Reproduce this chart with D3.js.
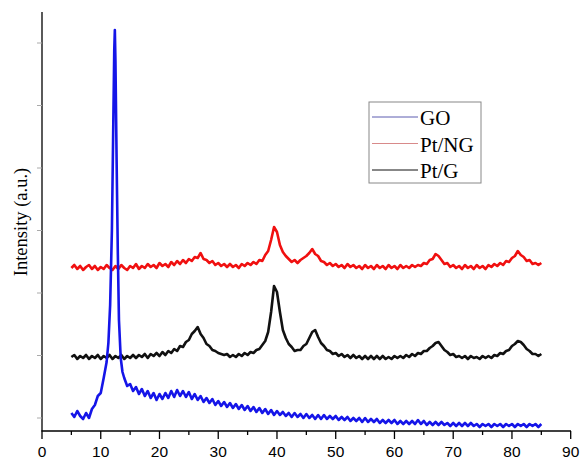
<!DOCTYPE html>
<html><head><meta charset="utf-8">
<script src="https://cdn.jsdelivr.net/npm/d3@7"></script>
<style>body{margin:0;background:#fff}</style>
</head><body>
<svg id="c" width="581" height="459"></svg>
<script>
const xTicks = [0,10,20,30,40,50,60,70,80,90];
const seriesNames = ["GO","Pt/NG","Pt/G"];
const yTicks = [120,745,1370,1995,2620,3245,3870];

// GO: fine points around the sharp peak, then a 0.5° grid from 14° to 85°
const goHeadX = [5,5.5,6,6.5,7,7.5,8,8.5,9,9.5,10,10.5,11,11.3,11.6,11.9,12.1,12.3,12.4,12.5,12.7,12.9,13.1,13.4,13.7];
const goHeadY = [170,130,190,140,110,170,120,210,250,340,370,520,680,870,1250,2000,2900,3800,4000,3700,2700,1800,1100,720,580];
const goTailY = [520,440,460,390,430,360,410,340,390,320,370,300,360,310,370,320,390,330,400,340,390,330,380,310,360,300,340,280,320,270,310,250,290,240,280,230,270,220,260,210,250,200,240,190,230,180,220,170,210,160,200,150,190,150,180,140,170,130,170,130,160,120,160,120,150,110,150,110,150,110,140,110,140,100,130,100,130,90,120,90,120,80,120,80,110,80,110,70,100,70,100,70,100,60,90,60,90,60,90,60,100,60,90,50,80,50,80,50,80,50,70,40,70,40,70,40,70,40,70,40,60,30,60,40,60,30,60,40,60,30,60,40,60,30,60,40,60,30,60,40,60,30,60];

// Pt/NG and Pt/G on a 0.5° grid from 5° to 85°
const ngY = [1620,1650,1610,1640,1600,1630,1650,1610,1640,1600,1630,1610,1650,1620,1600,1640,1610,1650,1620,1600,1640,1620,1660,1610,1640,1620,1660,1630,1650,1620,1670,1640,1660,1630,1680,1650,1690,1660,1700,1670,1710,1690,1730,1720,1770,1710,1700,1670,1690,1650,1670,1640,1660,1630,1660,1630,1650,1620,1660,1640,1670,1650,1680,1660,1700,1690,1750,1790,1900,2030,1980,1850,1780,1740,1710,1680,1700,1670,1700,1720,1740,1770,1810,1760,1740,1690,1680,1650,1670,1640,1660,1630,1650,1620,1660,1630,1650,1620,1640,1610,1650,1620,1640,1610,1650,1620,1640,1610,1650,1620,1640,1610,1650,1620,1640,1620,1650,1630,1650,1640,1670,1660,1700,1710,1760,1740,1700,1660,1670,1630,1650,1620,1640,1610,1650,1620,1640,1610,1650,1620,1640,1610,1650,1630,1660,1640,1670,1650,1690,1680,1720,1740,1790,1750,1730,1690,1700,1660,1670,1650,1670];
const gY = [730,750,710,740,720,750,710,740,720,750,710,740,720,750,710,740,720,750,710,740,720,750,720,750,730,760,720,760,740,770,740,780,750,790,770,810,790,840,830,880,900,960,990,1030,960,920,860,840,800,790,770,760,750,760,730,750,730,760,740,770,750,780,770,800,810,850,890,980,1180,1440,1380,1180,1000,920,860,830,790,800,800,840,860,920,980,1000,930,870,840,800,790,760,770,740,760,730,750,720,750,720,740,710,740,710,740,710,740,710,740,710,730,710,740,720,740,720,750,730,760,740,770,760,790,790,820,840,870,880,840,800,780,750,760,730,740,720,740,710,740,720,730,710,740,720,740,720,750,740,770,760,790,800,840,860,890,880,850,810,790,760,760,740,760];

const gridX = d3.range(5, 85.001, 0.5);
const goX = goHeadX.concat(d3.range(14, 85.001, 0.5));
const goY = goHeadY.concat(goTailY);

const svg = d3.select("#c");
const x = d3.scaleLinear().domain([0,90]).range([42,570.7]);
const y = d3.scaleLinear().domain([0,4180]).range([430,12]);

const series = [
  {name:seriesNames[0], xs:goX, ys:goY, color:"#1515e8", legend:"#5c5cb0"},
  {name:seriesNames[1], xs:gridX, ys:ngY, color:"#f01010", legend:"#d88a8a"},
  {name:seriesNames[2], xs:gridX, ys:gY, color:"#111111", legend:"#111"}
];
const line = d3.line().x(d=>x(d[0])).y(d=>y(d[1]));
[series[2],series[1],series[0]].forEach(s=>{
  const n = Math.min(s.xs.length, s.ys.length);
  const pts = d3.range(n).map(i=>[s.xs[i], s.ys[i]]);
  svg.append("path").attr("d",line(pts)).attr("fill","none")
    .attr("stroke",s.color).attr("stroke-width",2.6).attr("stroke-linejoin","round");
});

// x axis
const xa = svg.append("g").attr("transform","translate(0,431)");
xa.append("line").attr("x1",41.4).attr("x2",571).attr("stroke","#000").attr("stroke-width",1.3);
d3.range(0,91,5).forEach(v=>{
  const major = v%10===0;
  xa.append("line").attr("x1",x(v)).attr("x2",x(v)).attr("y1",0).attr("y2",major?8:4)
    .attr("stroke","#000").attr("stroke-width",1.3);
});
xa.selectAll("text.t").data(xTicks).join("text").attr("class","t")
  .attr("x",d=>x(d)).attr("y",26).attr("text-anchor","middle")
  .attr("font-family","Liberation Sans, Arial, sans-serif").attr("font-size",15.5).text(d=>d);

// y axis
svg.append("line").attr("x1",42).attr("x2",42).attr("y1",12).attr("y2",431).attr("stroke","#000").attr("stroke-width",1.3);
svg.selectAll("line.yt").data(yTicks).join("line").attr("class","yt")
  .attr("x1",37).attr("x2",42).attr("y1",d=>y(d)).attr("y2",d=>y(d))
  .attr("stroke","#aaa").attr("stroke-width",1);

svg.append("text").attr("transform","translate(27,222) rotate(-90)")
  .attr("text-anchor","middle").attr("font-family","Liberation Serif, Times New Roman, serif")
  .attr("font-size",18.5).text("Intensity (a.u.)");

// legend
const lg = svg.append("g");
lg.append("rect").attr("x",369).attr("y",102).attr("width",112).attr("height",81)
  .attr("fill","#fff").attr("stroke","#888").attr("stroke-width",1);
series.forEach((s,i)=>{
  const yy = 117 + i*26.5;
  lg.append("line").attr("x1",372).attr("x2",418).attr("y1",yy).attr("y2",yy)
    .attr("stroke",s.legend).attr("stroke-width",1);
  lg.append("text").attr("x",420).attr("y",yy+8).attr("font-family","Liberation Serif, Times New Roman, serif")
    .attr("font-size",21).text(s.name);
});
</script>
</body></html>
